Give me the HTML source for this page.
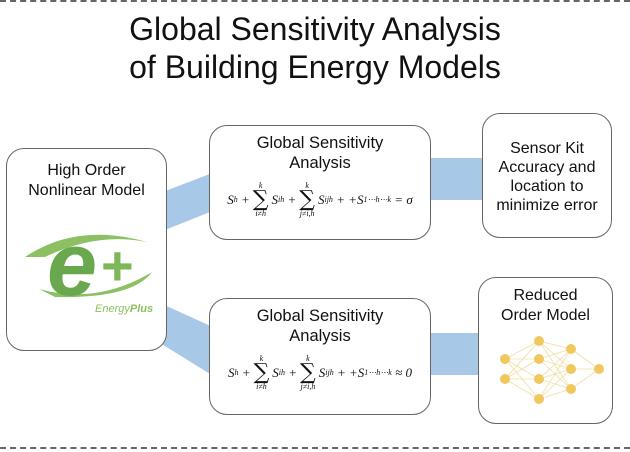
<!DOCTYPE html>
<html><head><style>
body{margin:0;width:630px;height:452px;background:#fff;position:relative;overflow:hidden;font-family:"Liberation Sans",sans-serif;}
.t{position:absolute;left:0;width:630px;text-align:center;font-size:32px;color:#111;}
.box{position:absolute;border:1.5px solid #666;border-radius:18px;background:#fff;box-sizing:border-box;text-align:center;font-size:16.5px;color:#111;line-height:20px;}
.f{position:absolute;left:0;width:100%;font-family:"Liberation Serif",serif;font-style:italic;font-size:13px;white-space:nowrap;display:flex;justify-content:center;align-items:center;}
.s{display:inline-flex;flex-direction:column;align-items:center;line-height:8px;font-size:8px;margin:0 3px;}
.s b{font-style:normal;font-weight:normal;font-size:22px;line-height:20px;font-family:"DejaVu Serif",serif;}
sub{font-size:8px;}
.dash{position:absolute;left:0;width:630px;border-top:2px dashed #666;}
</style></head><body>
<div class="dash" style="top:0"></div>
<div class="dash" style="top:447px"></div>
<div class="t" style="top:11px">Global Sensitivity Analysis</div>
<div class="t" style="top:49px">of Building Energy Models</div>
<svg style="position:absolute;left:0;top:0" width="630" height="452">
<polygon points="160,193 215,172 215,210 160,232" fill="#a8c8e8"/>
<polygon points="160,303 215,328 215,377 160,343" fill="#a8c8e8"/>
<rect x="425" y="158" width="62" height="42" fill="#a8c8e8"/>
<rect x="425" y="333" width="58" height="42" fill="#a8c8e8"/>
</svg>
<div class="box" style="left:6px;top:148px;width:161px;height:203px;padding-top:12px;font-size:16px">High Order<br>Nonlinear Model
<svg style="position:absolute;left:10px;top:68px" width="145" height="100">
<path d="M8,40 Q60,5 130,25 Q80,15 28,40 Z" fill="#8cc063"/>
<path d="M22,72 Q80,88 135,55 Q115,82 38,80 Z" fill="#8cc063"/>
<text x="30" y="78" font-family="Liberation Sans" font-weight="bold" font-style="italic" font-size="90" fill="#6aa84f">e</text>
<text x="84" y="68" font-family="Liberation Sans" font-weight="bold" font-size="56" fill="#7cb85a">+</text>
<text x="78" y="95" font-family="Liberation Sans" font-style="italic" font-size="11" fill="#8cc063">Energy<tspan font-weight="bold">Plus</tspan></text>
</svg></div>
<div class="box" style="left:209px;top:125px;width:222px;height:115px;padding-top:7px">Global Sensitivity<br>Analysis
<div class="f" style="top:56px">S<sub>h</sub>&nbsp;+<span class="s">k<b>∑</b>i≠h</span>S<sub>ih</sub>&nbsp;+<span class="s">k<b>∑</b>j≠i,h</span>S<sub>ijh</sub>&nbsp;+ +S<sub>1⋯h⋯k</sub>&nbsp;= σ</div></div>
<div class="box" style="left:209px;top:298px;width:222px;height:117px;padding-top:7px">Global Sensitivity<br>Analysis
<div class="f" style="top:56px">S<sub>h</sub>&nbsp;+<span class="s">k<b>∑</b>i≠h</span>S<sub>ih</sub>&nbsp;+<span class="s">k<b>∑</b>j≠i,h</span>S<sub>ijh</sub>&nbsp;+ +S<sub>1⋯h⋯k</sub>&nbsp;≈ 0</div></div>
<div class="box" style="left:482px;top:113px;width:130px;height:125px;padding-top:25px;line-height:19px;font-size:16px">Sensor Kit<br>Accuracy and<br>location to<br>minimize error</div>
<div class="box" style="left:478px;top:277px;width:135px;height:147px;padding-top:8px;font-size:16px">Reduced<br>Order Model
<svg style="position:absolute;left:0;top:0" width="135" height="147">
<g stroke="#f2dca0" stroke-width="0.8">
<path d="M26,81 L60,63 M26,81 L60,81 M26,81 L60,101 M26,81 L60,121 M26,101 L60,63 M26,101 L60,81 M26,101 L60,101 M26,101 L60,121 M60,63 L92,71 M60,63 L92,91 M60,63 L92,111 M60,81 L92,71 M60,81 L92,91 M60,81 L92,111 M60,101 L92,71 M60,101 L92,91 M60,101 L92,111 M60,121 L92,71 M60,121 L92,91 M60,121 L92,111 M92,71 L120,91 M92,91 L120,91 M92,111 L120,91"/>
</g>
<g fill="#f0c860">
<circle cx="26" cy="81" r="5"/><circle cx="26" cy="101" r="5"/>
<circle cx="60" cy="63" r="5"/><circle cx="60" cy="81" r="5"/><circle cx="60" cy="101" r="5"/><circle cx="60" cy="121" r="5"/>
<circle cx="92" cy="71" r="5"/><circle cx="92" cy="91" r="5"/><circle cx="92" cy="111" r="5"/>
<circle cx="120" cy="91" r="5"/>
</g></svg></div>
</body></html>
